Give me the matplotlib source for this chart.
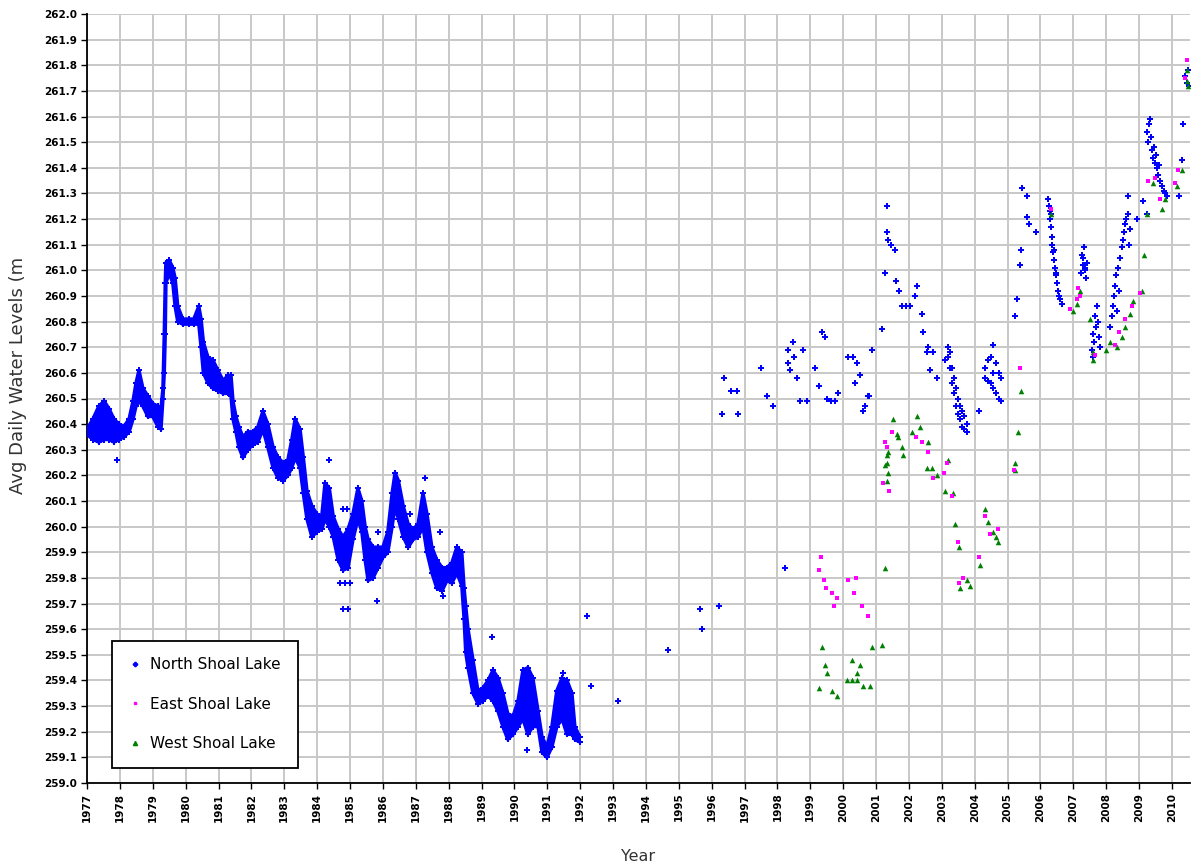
import numpy as np
import matplotlib.pyplot as plt
from matplotlib.lines import Line2D

# North Shoal Lake, dense daily record 1977-1992 read as low/high envelope
north_t = [1977.00, 1977.18, 1977.36, 1977.52, 1977.67, 1977.82, 1977.97, 1978.12, 1978.28, 1978.40,
           1978.49, 1978.58, 1978.70, 1978.85, 1979.00, 1979.16, 1979.25, 1979.31, 1979.35, 1979.38,
           1979.40, 1979.50, 1979.61, 1979.68, 1979.76, 1979.91, 1980.10, 1980.25, 1980.40, 1980.47,
           1980.54, 1980.68, 1980.83, 1980.98, 1981.14, 1981.29, 1981.38, 1981.44, 1981.53, 1981.62,
           1981.74, 1981.89, 1982.04, 1982.20, 1982.35, 1982.50, 1982.66, 1982.81, 1982.96, 1983.11,
           1983.23, 1983.33, 1983.48, 1983.58, 1983.69, 1983.84, 1983.99, 1984.14, 1984.24, 1984.37,
           1984.49, 1984.64, 1984.79, 1984.94, 1985.09, 1985.24, 1985.36, 1985.46, 1985.55, 1985.70,
           1985.85, 1986.00, 1986.15, 1986.28, 1986.37, 1986.47, 1986.62, 1986.77, 1986.92, 1987.07,
           1987.22, 1987.34, 1987.49, 1987.64, 1987.80, 1987.95, 1988.10, 1988.25, 1988.40, 1988.47,
           1988.52, 1988.59, 1988.74, 1988.89, 1989.04, 1989.20, 1989.35, 1989.50, 1989.65, 1989.80,
           1989.96, 1990.11, 1990.26, 1990.41, 1990.56, 1990.72, 1990.84, 1990.99, 1991.14, 1991.29,
           1991.45, 1991.60, 1991.75, 1991.84, 1991.99]
north_lo = [260.36, 260.34, 260.33, 260.34, 260.34, 260.33, 260.34, 260.35, 260.37, 260.42,
            260.47, 260.49, 260.47, 260.43, 260.43, 260.39, 260.38, 260.50, 260.60, 260.75,
            260.95, 260.99, 260.95, 260.86, 260.80, 260.79, 260.79, 260.79, 260.79, 260.70,
            260.60, 260.56, 260.54, 260.53, 260.52, 260.52, 260.51, 260.42, 260.37, 260.31,
            260.27, 260.30, 260.32, 260.33, 260.38, 260.31, 260.23, 260.19, 260.18, 260.20,
            260.23, 260.27, 260.23, 260.13, 260.03, 259.96, 259.98, 259.99, 260.03, 260.00,
            259.96, 259.87, 259.83, 259.84, 259.95, 260.03, 259.98, 259.87, 259.79, 259.80,
            259.84, 259.88, 259.90, 260.00, 260.08, 260.03, 259.96, 259.92, 259.95, 259.96,
            260.00, 259.90, 259.82, 259.76, 259.75, 259.79, 259.78, 259.82, 259.77, 259.64,
            259.51, 259.45, 259.35, 259.31, 259.32, 259.34, 259.32, 259.28, 259.22, 259.17,
            259.19, 259.22, 259.25, 259.19, 259.22, 259.22, 259.12, 259.10, 259.14, 259.22,
            259.25, 259.19, 259.19, 259.17, 259.16]
north_hi = [260.38, 260.42, 260.47, 260.49, 260.46, 260.42, 260.40, 260.39, 260.42, 260.49,
            260.56, 260.61, 260.54, 260.51, 260.48, 260.47, 260.46, 260.54, 260.75, 260.95,
            261.03, 261.04, 261.01, 260.97, 260.86, 260.81, 260.81, 260.81, 260.86, 260.81,
            260.72, 260.66, 260.65, 260.61, 260.57, 260.59, 260.59, 260.49, 260.43, 260.39,
            260.35, 260.37, 260.37, 260.39, 260.45, 260.40, 260.31, 260.27, 260.25, 260.26,
            260.34, 260.42, 260.38, 260.27, 260.14, 260.08, 260.05, 260.04, 260.17, 260.15,
            260.04, 259.99, 259.96, 259.99, 260.05, 260.15, 260.10, 260.00, 259.95, 259.92,
            259.92, 259.92, 259.98, 260.13, 260.21, 260.18, 260.08, 260.01, 259.99, 260.01,
            260.13, 260.05, 259.92, 259.87, 259.84, 259.84, 259.86, 259.92, 259.90, 259.76,
            259.69, 259.60, 259.48, 259.36, 259.37, 259.40, 259.44, 259.41, 259.35, 259.27,
            259.26, 259.32, 259.44, 259.45, 259.41, 259.28, 259.18, 259.14, 259.22, 259.36,
            259.41, 259.40, 259.35, 259.22, 259.18]

# North Shoal Lake, scattered readings
north_x = [1977.91, 1984.36, 1984.70, 1984.85, 1985.00, 1984.80, 1984.95, 1984.78, 1984.90, 1985.82,
           1985.85, 1986.82, 1987.28, 1987.74, 1987.83, 1989.32, 1990.38, 1991.48,
           1992.21, 1992.33, 1993.15, 1994.67, 1995.64, 1995.70, 1996.22,
           1996.31, 1996.80, 1996.37, 1996.59, 1996.77, 1997.50, 1997.68, 1997.86, 1998.23, 1998.47,
           1998.32, 1998.78, 1998.50, 1998.32, 1998.38, 1998.59, 1998.68, 1998.90, 1999.14, 1999.26,
           1999.35, 1999.45, 1999.51, 1999.63, 1999.75, 1999.84, 2000.14, 2000.30, 2000.42, 2000.51,
           2000.36, 2000.78, 2000.66, 2000.60, 2000.87, 2001.18, 2001.33, 2001.33, 2001.36, 2001.45,
           2001.57, 2001.27, 2001.60, 2001.70, 2002.24, 2002.18, 2001.79, 2001.91, 2002.03, 2002.40,
           2002.43, 2002.58, 2002.55, 2002.73, 2002.64, 2002.85, 2000.75,
           2003.09, 2003.19, 2003.19, 2003.25, 2003.25, 2003.31, 2003.31, 2003.37, 2003.37, 2003.43,
           2003.43, 2003.49, 2003.49, 2003.55, 2003.55, 2003.61, 2003.61, 2003.67, 2003.67, 2003.76,
           2003.76, 2004.13, 2004.31, 2004.31, 2004.40, 2004.40, 2004.49, 2004.49, 2004.55, 2004.55,
           2004.55, 2004.65, 2004.65, 2004.74, 2004.74, 2004.80, 2004.80,
           2005.22, 2005.28, 2005.38, 2005.41, 2005.44, 2005.59, 2005.59, 2005.65, 2005.86,
           2006.23, 2006.26, 2006.29, 2006.29, 2006.32, 2006.35, 2006.35, 2006.38, 2006.41, 2006.44,
           2006.47, 2006.50, 2006.53, 2006.59, 2006.65, 2006.33, 2006.40, 2006.48, 2006.56,
           2007.26, 2007.32, 2007.29, 2007.35, 2007.38, 2007.23, 2007.41, 2007.30, 2007.36,
           2007.72, 2007.66, 2007.69, 2007.59, 2007.62, 2007.56, 2007.59, 2007.75, 2007.78, 2007.81,
           2008.11, 2008.17, 2008.20, 2008.23, 2008.27, 2008.30, 2008.36, 2008.42, 2008.48, 2008.51,
           2008.54, 2008.57, 2008.60, 2008.66, 2008.72, 2008.69, 2008.66, 2008.39, 2008.33,
           2009.24, 2009.27, 2009.30, 2009.33, 2009.36, 2009.39, 2009.42, 2009.45, 2009.48, 2009.54,
           2009.57, 2009.63, 2009.69, 2009.75, 2009.79, 2009.85, 2009.51, 2009.60,
           2009.12, 2009.24, 2008.93, 2010.33, 2010.30, 2010.21, 2010.39, 2010.45, 2010.48, 2010.51]
north_y = [260.26, 260.26, 259.78, 259.78, 259.78, 259.68, 259.68, 260.07, 260.07, 259.71,
           259.98, 260.05, 260.19, 259.98, 259.73, 259.57, 259.13, 259.43,
           259.65, 259.38, 259.32, 259.52, 259.68, 259.60, 259.69,
           260.44, 260.44, 260.58, 260.53, 260.53, 260.62, 260.51, 260.47, 259.84, 260.72,
           260.69, 260.69, 260.66, 260.64, 260.61, 260.58, 260.49, 260.49, 260.62, 260.55,
           260.76, 260.74, 260.50, 260.49, 260.49, 260.52, 260.66, 260.66, 260.64, 260.59,
           260.56, 260.51, 260.47, 260.45, 260.69, 260.77, 261.25, 261.15, 261.12, 261.10,
           261.08, 260.99, 260.96, 260.92, 260.94, 260.90, 260.86, 260.86, 260.86, 260.83,
           260.76, 260.70, 260.68, 260.68, 260.61, 260.58, 260.51,
           260.65, 260.70, 260.66, 260.68, 260.62, 260.62, 260.56, 260.58, 260.52, 260.54,
           260.47, 260.50, 260.44, 260.47, 260.42, 260.45, 260.39, 260.43, 260.38, 260.40,
           260.37, 260.45, 260.62, 260.58, 260.65, 260.57, 260.66, 260.56, 260.71, 260.60,
           260.54, 260.64, 260.52, 260.60, 260.50, 260.58, 260.49,
           260.82, 260.89, 261.02, 261.08, 261.32, 261.29, 261.21, 261.18, 261.15,
           261.28, 261.25, 261.23, 261.20, 261.17, 261.13, 261.10, 261.07, 261.04, 261.01,
           260.98, 260.95, 260.92, 260.89, 260.87, 261.22, 261.08, 260.99, 260.90,
           261.06, 261.09, 261.02, 261.00, 260.97, 260.99, 261.03, 261.05, 261.01,
           260.86, 260.82, 260.78, 260.75, 260.72, 260.69, 260.66, 260.80, 260.74, 260.70,
           260.78, 260.82, 260.86, 260.90, 260.94, 260.98, 261.01, 261.05, 261.09, 261.12,
           261.15, 261.18, 261.20, 261.22, 261.16, 261.10, 261.29, 260.92, 260.84,
           261.54, 261.50, 261.57, 261.59, 261.52, 261.47, 261.44, 261.48, 261.42, 261.40,
           261.37, 261.35, 261.33, 261.31, 261.30, 261.29, 261.45, 261.41,
           261.27, 261.22, 261.20, 261.57, 261.43, 261.29, 261.76, 261.73, 261.78, 261.72]

# East Shoal Lake
east_x = [1999.32, 1999.26, 1999.41, 1999.48, 1999.66, 1999.81, 1999.72, 2000.14, 2000.39, 2000.33,
          2000.57, 2000.75, 2001.48, 2001.27, 2001.33, 2001.21, 2001.39, 2002.21, 2002.40, 2002.58,
          2003.16, 2003.06, 2002.73, 2003.31, 2003.49, 2004.31, 2004.46, 2004.71, 2004.13, 2003.64,
          2003.52, 2005.38, 2005.19, 2006.32, 2006.90, 2007.20, 2007.14, 2007.11, 2007.66, 2008.27,
          2008.39, 2008.57, 2008.78, 2009.03, 2009.27, 2009.48, 2009.63, 2010.09, 2010.18, 2010.45,
          2010.39]
east_y = [259.88, 259.83, 259.79, 259.76, 259.74, 259.72, 259.69, 259.79, 259.80, 259.74,
          259.69, 259.65, 260.37, 260.33, 260.31, 260.17, 260.14, 260.35, 260.33, 260.29,
          260.25, 260.21, 260.19, 260.12, 259.94, 260.04, 259.97, 259.99, 259.88, 259.80,
          259.78, 260.62, 260.22, 261.24, 260.85, 260.90, 260.93, 260.89, 260.67, 260.71,
          260.76, 260.81, 260.86, 260.91, 261.35, 261.36, 261.28, 261.34, 261.39, 261.82,
          261.75]

# West Shoal Lake
west_x = [1999.35, 1999.45, 1999.51, 1999.26, 1999.66, 1999.81, 2000.27, 2000.51, 2000.42, 2000.11,
          2000.27, 2000.42, 2000.60, 2000.81, 2000.87, 2001.18, 2001.27, 2001.51, 2001.64, 2001.36,
          2001.36, 2001.33, 2001.33, 2002.24, 2002.33, 2002.09, 2001.67, 2001.79, 2001.82, 2001.33,
          2002.58, 2001.27, 2002.55, 2002.70, 2002.85, 2003.19, 2003.09, 2003.34, 2003.40, 2003.52,
          2004.16, 2004.31, 2004.40, 2004.55, 2004.65, 2004.71, 2003.76, 2003.86, 2003.55, 2005.31,
          2005.41, 2005.22, 2005.22, 2006.32, 2007.20, 2006.99, 2007.11, 2007.50, 2007.59, 2007.59,
          2007.99, 2008.11, 2008.33, 2008.48, 2008.57, 2008.72, 2008.81, 2009.09, 2009.15, 2009.24,
          2009.42, 2009.69, 2009.79, 2010.15, 2010.30, 2010.45, 2010.45, 2010.48]
west_y = [259.53, 259.46, 259.43, 259.37, 259.36, 259.34, 259.48, 259.46, 259.43, 259.40,
          259.40, 259.40, 259.38, 259.38, 259.53, 259.54, 259.84, 260.42, 260.36, 260.29,
          260.21, 260.18, 260.25, 260.43, 260.39, 260.37, 260.35, 260.31, 260.28, 260.28,
          260.33, 260.24, 260.23, 260.23, 260.20, 260.26, 260.14, 260.13, 260.01, 259.92,
          259.85, 260.07, 260.02, 259.98, 259.96, 259.94, 259.79, 259.77, 259.76, 260.37,
          260.53, 260.25, 260.22, 261.22, 260.92, 260.84, 260.87, 260.81, 260.65, 260.68,
          260.69, 260.72, 260.70, 260.74, 260.78, 260.83, 260.88, 260.92, 261.06, 261.22,
          261.34, 261.24, 261.28, 261.33, 261.39, 261.78, 261.74, 261.72]

years = list(range(1977, 2011))

blue = '#0000FF'
magenta = '#FF00FF'
green = '#008000'

fig = plt.figure(figsize=(11.95, 8.67), dpi=100)
ax = fig.add_axes([87 / 1195, 84 / 867, 1103 / 1195, 769 / 867])

# dense part of the north record
ax.fill_between(north_t, north_lo, north_hi, color=blue, lw=0, zorder=3)
ax.scatter(north_t, north_lo, marker='P', s=18, color=blue, lw=0, zorder=3)
ax.scatter(north_t, north_hi, marker='P', s=18, color=blue, lw=0, zorder=3)
ax.plot(north_t, north_lo, color=blue, lw=2.5, zorder=3)
ax.plot(north_t, north_hi, color=blue, lw=2.5, zorder=3)

ax.scatter(north_x, north_y, marker='P', s=16, color=blue, lw=0, zorder=4)
ax.scatter(east_x, east_y, marker='s', s=6, color=magenta, lw=0, zorder=5)
ax.scatter(west_x, west_y, marker='^', s=16, color=green, lw=0, zorder=4)

ax.set_xlim(1977, 2010.55)
ax.set_ylim(259.0, 262.0)
ax.set_xticks(years)
ax.set_xticklabels([str(y) for y in years], rotation=90, fontsize=7.5, fontweight='bold')
yt = np.round(np.arange(259.0, 262.01, 0.1), 1)
ax.set_yticks(yt)
ax.set_yticklabels(['%.1f' % v for v in yt], fontsize=7.5, fontweight='bold')
ax.tick_params(direction='out', length=4, width=1, pad=3)
ax.grid(True, color='#C8C8C8', lw=1.4, zorder=0)
ax.set_axisbelow(True)
for s in ['top', 'right']:
    ax.spines[s].set_visible(False)
for s in ['left', 'bottom']:
    ax.spines[s].set_linewidth(1.3)

fig.text(0.5336, 0.004, 'Year', ha='center', va='bottom', fontsize=11.5, color='#333333')
fig.text(0.015, 0.567, 'Avg Daily Water Levels (m', rotation=90, ha='center', va='center',
         fontsize=13, color='#333333')

handles = [Line2D([], [], ls='none', marker='P', ms=3, color=blue),
           Line2D([], [], ls='none', marker='s', ms=2, color=magenta),
           Line2D([], [], ls='none', marker='^', ms=3, color=green)]
leg = ax.legend(handles, ['North Shoal Lake', 'East Shoal Lake', 'West Shoal Lake'],
                loc='lower left', bbox_to_anchor=(0.0227, 0.0195), borderaxespad=0,
                fontsize=11, labelspacing=1.6, handlelength=0.8, handletextpad=0.6,
                borderpad=1.1, fancybox=False, framealpha=1, edgecolor='black')
leg.get_frame().set_linewidth(1.3)
leg.set_zorder(10)

fig.savefig('out.png', dpi=100)
